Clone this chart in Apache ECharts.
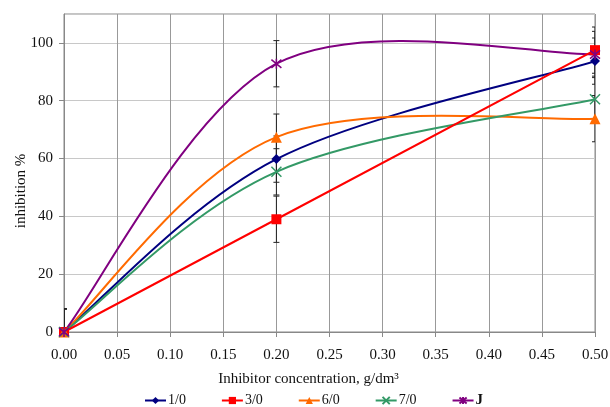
<!DOCTYPE html>
<html>
<head>
<meta charset="utf-8">
<script src="https://cdn.jsdelivr.net/npm/echarts@6/dist/echarts.min.js"></script>
<style>html,body{margin:0;padding:0;background:#fff}#c{width:610px;height:407px}</style>
</head>
<body>
<div id="c"></div>
<script>
var xValues = [0, 0.2, 0.5];
var s10 = [0, 59.8, 93.7];
var s30 = [0, 39, 97.5];
var s60 = [0, 67.4, 73.8];
var s70 = [0, 55.4, 80.5];
var sJ = [0, 92.8, 96];
var errors = [8, 8, 8];
var seriesNames = ['1/0', '3/0', '6/0', '7/0', 'J'];
var xTicks = ['0.00','0.05','0.10','0.15','0.20','0.25','0.30','0.35','0.40','0.45','0.50'];

var FONT = 'Liberation Serif';
var C10 = '#000080', C30 = '#ff0000', C60 = '#ff6a00', C70 = '#339966', CJ = '#800080';

function pairs(ys){ return xValues.map(function(x,i){ return [x, ys[i]]; }); }
function errData(ys){ return xValues.map(function(x,i){ return [x, ys[i], errors[i]]; }); }

// Excel-like smoothed curve (Catmull-Rom Bezier) drawn through the axis scales
function curveSeries(ys, color){
  return {
    type: 'custom', z: 2, clip: true, silent: true,
    data: pairs(ys),
    renderItem: function(params, api){
      var i = params.dataIndex, n = xValues.length;
      if (i >= n - 1) return null;
      var p = function(k){ k = Math.max(0, Math.min(n-1, k)); return api.coord([xValues[k], ys[k]]); };
      var p0 = p(i-1), p1 = p(i), p2 = p(i+1), p3 = p(i+2);
      return {
        type: 'bezierCurve',
        shape: {
          x1: p1[0], y1: p1[1], x2: p2[0], y2: p2[1],
          cpx1: p1[0] + (p2[0]-p0[0])/6, cpy1: p1[1] + (p2[1]-p0[1])/6,
          cpx2: p2[0] - (p3[0]-p1[0])/6, cpy2: p2[1] - (p3[1]-p1[1])/6
        },
        style: {stroke: color, lineWidth: 2, fill: null}
      };
    }
  };
}

var xPath = 'path://M0,0L10,10M10,0L0,10';
var starPath = 'path://M0,0L10,10M10,0L0,10M5,-1L5,11';

var allErr = [].concat(errData(s10), errData(s30), errData(s60), errData(s70), errData(sJ));

function markerSeries(name, ys, symbol, size, color, hollow, showLine){
  return {
    name: name, type: 'line', data: pairs(ys), smooth: false, z: 4,
    symbol: symbol, symbolSize: size, color: color,
    lineStyle: {color: color, width: 2, opacity: showLine ? 1 : 0},
    itemStyle: hollow ? {color: 'none', borderColor: color, borderWidth: 1.5} : {color: color}
  };
}

var chart = echarts.init(document.getElementById('c'));
chart.setOption({
  animation: false,
  textStyle: {fontFamily: FONT},
  grid: {left: 64, right: 15, top: 14, bottom: 75, show: true, borderColor: '#888', borderWidth: 1,
    containLabel: false, outerBoundsMode: 'none'},
  legend: {
    top: 393, left: 144, padding: 0, itemWidth: 21, itemHeight: 9, itemGap: 35,
    data: seriesNames.map(function(n){ return {name: n, lineStyle: {opacity: 1}}; }),
    formatter: function(n){ return n === 'J' ? '{b|J}' : n; },
    textStyle: {fontFamily: FONT, fontSize: 14, color: '#111', padding: [0,0,0,-3],
      rich: {b: {fontFamily: FONT, fontSize: 15, fontWeight: 'bold', color: '#111'}}}
  },
  xAxis: {
    type: 'value', min: 0, max: 0.5, interval: 0.05,
    name: 'Inhibitor concentration, g/dm³', nameLocation: 'middle', nameGap: 40,
    nameMoveOverlap: false,
    nameTextStyle: {fontFamily: FONT, fontSize: 15, color: '#111', padding: [0, 42, 0, 0]},
    axisLine: {lineStyle: {color: '#888'}},
    axisTick: {show: true, length: 5, lineStyle: {color: '#888'}},
    axisLabel: {fontFamily: FONT, fontSize: 15, color: '#111', margin: 16,
      formatter: function(v){ var i = Math.round(v/0.05); return xTicks[i] || ''; }},
    splitLine: {show: true, lineStyle: {color: '#999', width: 1}}
  },
  yAxis: {
    type: 'value', min: 0, max: 110, interval: 20,
    name: 'inhibition %', nameLocation: 'middle', nameGap: 35,
    nameMoveOverlap: false,
    nameTextStyle: {fontFamily: FONT, fontSize: 15, color: '#111', padding: [0, 36, 0, 0]},
    axisLine: {show: true, lineStyle: {color: '#888'}},
    axisTick: {show: true, length: 5, lineStyle: {color: '#888'}},
    axisLabel: {fontFamily: FONT, fontSize: 15, color: '#111', margin: 11, showMaxLabel: false},
    splitLine: {show: true, lineStyle: {color: '#c8c8c8', width: 1}}
  },
  series: [
    {
      type: 'custom', z: 1, clip: true, silent: true,
      data: allErr,
      renderItem: function(params, api){
        var x = api.value(0), y = api.value(1), e = api.value(2);
        var top = api.coord([x, y + e]);
        var bot = api.coord([x, y - e]);
        var c = 3;
        return {type: 'group', children: [
          {type: 'line', shape: {x1: top[0], y1: top[1], x2: bot[0], y2: bot[1]}, style: {stroke: '#222', lineWidth: 1}},
          {type: 'line', shape: {x1: top[0]-c, y1: top[1], x2: top[0]+c, y2: top[1]}, style: {stroke: '#222', lineWidth: 1}},
          {type: 'line', shape: {x1: bot[0]-c, y1: bot[1], x2: bot[0]+c, y2: bot[1]}, style: {stroke: '#222', lineWidth: 1}}
        ]};
      }
    },
    curveSeries(s10, C10),
    curveSeries(s60, C60),
    curveSeries(s70, C70),
    curveSeries(sJ, CJ),
    markerSeries('1/0', s10, 'diamond', 10, C10, false, false),
    markerSeries('3/0', s30, 'rect', 10, C30, false, true),
    markerSeries('6/0', s60, 'triangle', 11, C60, false, false),
    markerSeries('7/0', s70, xPath, 10, C70, true, false),
    markerSeries('J', sJ, starPath, 10, CJ, true, false)
  ]
});
</script>
</body>
</html>
